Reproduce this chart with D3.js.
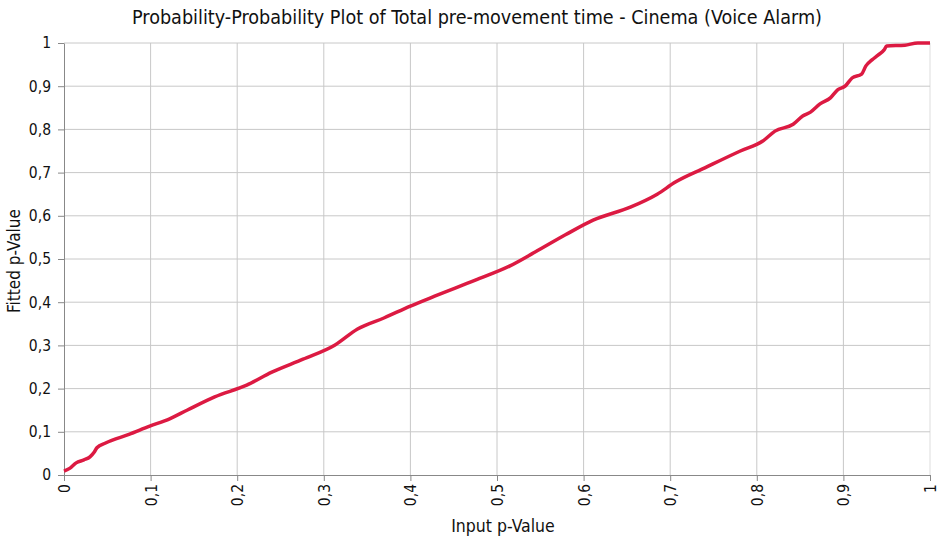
<!DOCTYPE html>
<html>
<head>
<meta charset="utf-8">
<script src="https://cdn.jsdelivr.net/npm/d3@7"></script>
<style>
body { margin: 0; background: #fff; }
text { font-family: "DejaVu Sans Condensed", "DejaVu Sans", sans-serif; fill: #111; }
</style>
</head>
<body>
<div class="chart"></div>
<script>
// P-P plot: input p vs fitted p
var inputP = [0, 0.007, 0.014, 0.023, 0.030, 0.035, 0.038, 0.048, 0.075, 0.099, 0.122, 0.142, 0.174, 0.211, 0.240, 0.276, 0.313, 0.339, 0.370, 0.400, 0.428, 0.475, 0.515, 0.544, 0.579, 0.611, 0.654, 0.685, 0.706, 0.740, 0.781, 0.807, 0.821, 0.842, 0.853, 0.862, 0.873, 0.885, 0.893, 0.902, 0.910, 0.921, 0.926, 0.933, 0.940, 0.947, 0.950, 0.971, 0.986, 1];
var fittedP = [0.009, 0.016, 0.028, 0.035, 0.042, 0.053, 0.063, 0.074, 0.094, 0.113, 0.130, 0.150, 0.181, 0.208, 0.238, 0.268, 0.301, 0.338, 0.364, 0.391, 0.414, 0.451, 0.484, 0.516, 0.556, 0.590, 0.620, 0.650, 0.678, 0.711, 0.750, 0.773, 0.796, 0.812, 0.831, 0.840, 0.859, 0.873, 0.891, 0.900, 0.919, 0.928, 0.947, 0.961, 0.972, 0.984, 0.993, 0.995, 1.0, 1.0];
var xTicks = [0, 0.1, 0.2, 0.3, 0.4, 0.5, 0.6, 0.7, 0.8, 0.9, 1];
var yTicks = [0, 0.1, 0.2, 0.3, 0.4, 0.5, 0.6, 0.7, 0.8, 0.9, 1];

var svgWidth = 940, svgHeight = 539;
var margin = {top: 43, right: 10, bottom: 64, left: 64};
var width = 930 - margin.left;
var height = 475 - margin.top;

var svg = d3.select(".chart").append("svg").attr("width", svgWidth).attr("height", svgHeight);
var chartGroup = svg.append("g").attr("transform", `translate(${margin.left}, ${margin.top})`);

var x = d3.scaleLinear().domain([0, 1]).range([0, width]);
var y = d3.scaleLinear().domain([0, 1]).range([height, 0]);
var fmt = d => String(d).replace(".", ",");

// grid
chartGroup.append("g").selectAll("line").data(xTicks.slice(1)).enter().append("line")
  .attr("x1", d => x(d)).attr("x2", d => x(d)).attr("y1", 0).attr("y2", height)
  .attr("stroke", d => d === 1 ? "#ddd" : "#c8c8c8").attr("stroke-width", 1);
chartGroup.append("g").selectAll("line").data(yTicks.slice(1)).enter().append("line")
  .attr("x1", 0).attr("x2", width).attr("y1", d => y(d)).attr("y2", d => y(d))
  .attr("stroke", "#c8c8c8").attr("stroke-width", 1);

// axes
var bottomAxis = d3.axisBottom(x).tickValues(xTicks).tickFormat(fmt).tickSize(6).tickSizeOuter(0);
var leftAxis = d3.axisLeft(y).tickValues(yTicks).tickFormat(fmt).tickSize(6).tickSizeOuter(0);
var gx = chartGroup.append("g").attr("transform", `translate(0, ${height})`).call(bottomAxis);
var gy = chartGroup.append("g").call(leftAxis);
[gx, gy].forEach(g => {
  g.select(".domain").attr("stroke", "#888");
  g.selectAll(".tick line").attr("stroke", "#888");
  g.selectAll("text").style("font-size", "15.5px").attr("fill", "#111");
});
gx.selectAll("text").attr("transform", "rotate(-90)").attr("text-anchor", "end")
  .attr("x", -9).attr("y", 0).attr("dy", "0.35em");
gy.selectAll("text").attr("x", -13);

// line
var pts = inputP.map((v, i) => [v, fittedP[i]]);
chartGroup.append("path").datum(pts)
  .attr("fill", "none").attr("stroke", "#dc1a42").attr("stroke-width", 3.5)
  .attr("stroke-linejoin", "round")
  .attr("d", d3.line().x(d => x(d[0])).y(d => y(d[1])).curve(d3.curveMonotoneX));

// labels
svg.append("text").attr("x", 477).attr("y", 24).attr("text-anchor", "middle")
  .style("font-size", "19.6px").text("Probability-Probability Plot of Total pre-movement time - Cinema (Voice Alarm)");
svg.append("text").attr("x", 503).attr("y", 532).attr("text-anchor", "middle")
  .style("font-size", "17.5px").text("Input p-Value");
svg.append("text").attr("transform", "translate(20, 261) rotate(-90)").attr("text-anchor", "middle")
  .style("font-size", "17px").text("Fitted p-Value");
</script>
</body>
</html>
